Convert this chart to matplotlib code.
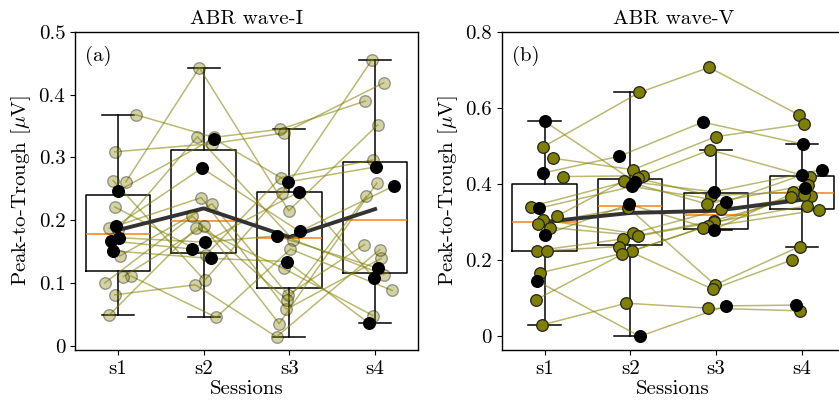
import matplotlib
matplotlib.use("Agg")
import matplotlib.pyplot as plt
import numpy as np
from matplotlib.ticker import FuncFormatter, MultipleLocator

plt.rcParams.update({
    "font.family": "cmr10",
    "mathtext.fontset": "cm",
    "axes.formatter.use_mathtext": True,
    "axes.unicode_minus": False,
    "font.size": 15,
})

sessions = ["s1", "s2", "s3", "s4"]

# Peak-to-trough amplitudes (µV); one row per listener, one column per session.
# The last five listeners are drawn in black.
wave1_amp = [
    [0.368, 0.332, 0.345, 0.390],
    [0.309, 0.322, 0.339, 0.419],
    [0.263, 0.104, 0.244, 0.456],
    [0.261, 0.443, 0.215, 0.352],
    [0.221, 0.145, 0.268, 0.296],
    [0.187, 0.236, 0.058, 0.139],
    [0.185, 0.333, 0.169, 0.113],
    [0.143, 0.226, 0.081, 0.161],
    [0.111, 0.045, 0.154, 0.088],
    [0.110, 0.190, 0.035, 0.259],
    [0.100, 0.206, 0.072, 0.238],
    [0.081, 0.097, 0.014, 0.153],
    [0.049, 0.188, 0.123, 0.048],
    [0.247, 0.330, 0.261, 0.285],
    [0.190, 0.283, 0.182, 0.255],
    [0.172, 0.165, 0.175, 0.123],
    [0.167, 0.154, 0.245, 0.107],
    [0.151, 0.139, 0.134, 0.036],
]

wave5_amp = [
    [0.497, 0.641, 0.707, 0.582],
    [0.468, 0.438, 0.525, 0.558],
    [0.420, 0.422, 0.490, 0.418],
    [0.341, 0.415, 0.370, 0.379],
    [0.317, 0.409, 0.348, 0.398],
    [0.306, 0.271, 0.334, 0.369],
    [0.296, 0.338, 0.135, 0.236],
    [0.286, 0.265, 0.304, 0.372],
    [0.225, 0.256, 0.300, 0.343],
    [0.225, 0.236, 0.124, 0.201],
    [0.167, 0.224, 0.290, 0.366],
    [0.096, 0.216, 0.286, 0.332],
    [0.030, 0.087, 0.074, 0.067],
    [0.565, 0.405, 0.380, 0.438],
    [0.429, 0.473, 0.563, 0.505],
    [0.337, 0.394, 0.354, 0.424],
    [0.267, 0.347, 0.280, 0.391],
    [0.146, 0.000, 0.080, 0.082],
]

highlighted = [False] * 13 + [True] * 5

# horizontal scatter offsets of each point around its session
wave1_jitter = [
    [0.210, 0.120, -0.105, -0.113],
    [-0.035, 0.100, -0.066, 0.100],
    [-0.054, 0.012, -0.082, -0.035],
    [0.093, -0.050, -0.008, 0.030],
    [-0.035, 0.030, -0.100, -0.028],
    [-0.100, -0.027, -0.035, 0.070],
    [0.000, -0.073, 0.042, 0.100],
    [0.023, 0.097, -0.016, -0.125],
    [0.152, 0.148, 0.012, 0.198],
    [0.063, 0.000, -0.120, 0.019],
    [-0.152, -0.130, -0.023, -0.105],
    [-0.035, -0.097, -0.150, 0.054],
    [-0.100, -0.085, -0.066, -0.028],
    [0.005, 0.117, -0.016, 0.012],
    [-0.027, -0.020, 0.120, 0.225],
    [0.012, 0.012, -0.150, 0.038],
    [-0.085, -0.136, 0.110, -0.008],
    [-0.058, 0.090, -0.028, -0.075],
]

wave5_jitter = [
    [-0.023, 0.105, -0.080, -0.035],
    [0.100, 0.030, 0.000, 0.022],
    [0.210, 0.143, -0.070, 0.098],
    [-0.160, 0.090, -0.063, -0.105],
    [0.150, -0.070, -0.110, 0.070],
    [-0.023, 0.030, 0.058, 0.110],
    [-0.073, -0.023, -0.012, -0.027],
    [0.066, 0.090, -0.023, 0.030],
    [-0.090, -0.086, -0.030, 0.058],
    [0.023, -0.133, -0.040, -0.112],
    [-0.050, 0.015, -0.100, -0.124],
    [-0.100, -0.093, -0.156, 0.200],
    [-0.030, -0.047, -0.093, -0.027],
    [0.000, 0.060, -0.030, 0.233],
    [-0.023, -0.133, -0.156, 0.014],
    [-0.062, 0.023, 0.117, 0.000],
    [0.008, -0.016, -0.028, 0.040],
    [-0.090, 0.108, 0.117, -0.073],
]


def draw_panel(ax, amp, jitter, title, tag, ylim, ystep, faded):
    amp = np.asarray(amp)
    jitter = np.asarray(jitter)
    mask = np.asarray(highlighted)
    pos = np.arange(1, len(sessions) + 1)

    line_kw = dict(color="black", linewidth=1.1)
    ax.boxplot([amp[:, j] for j in range(len(sessions))], positions=pos,
               widths=0.75, showfliers=False, zorder=1,
               boxprops=line_kw, whiskerprops=line_kw, capprops=line_kw,
               medianprops=dict(color="#ff7f0e", linewidth=1.1))

    xs = pos[None, :] + jitter
    for i in range(amp.shape[0]):
        ax.plot(xs[i], amp[i], color="olive", alpha=0.55, linewidth=1.1,
                zorder=2)

    ax.plot(pos, amp.mean(axis=0), color="#333333", linewidth=2.8, zorder=3)

    if faded:
        ax.scatter(xs[~mask], amp[~mask], s=70, color="olive", alpha=0.35,
                   edgecolors="black", linewidths=1.0, zorder=4)
    else:
        ax.scatter(xs[~mask], amp[~mask], s=70, color="olive",
                   edgecolors="#222222", linewidths=0.9, zorder=4)
    ax.scatter(xs[mask], amp[mask], s=70, color="black", zorder=5)

    ax.set_xlim(0.5, len(sessions) + 0.5)
    ax.set_xticks(pos)
    ax.set_xticklabels(sessions)
    ax.set_ylim(*ylim)
    ax.yaxis.set_major_locator(MultipleLocator(ystep))
    ax.yaxis.set_major_formatter(FuncFormatter(lambda v, _: f"{v:g}"))
    ax.set_title(title, fontsize=15, pad=6)
    ax.set_xlabel("Sessions", labelpad=2)
    ax.set_ylabel(r"Peak-to-Trough [$\mu$V]", labelpad=4)
    ax.text(0.03, 0.955, tag, transform=ax.transAxes, ha="left", va="top",
            fontsize=15)
    for sp in ax.spines.values():
        sp.set_linewidth(1.0)


fig = plt.figure(figsize=(8.39, 4.09), dpi=100)
ax1 = fig.add_axes([75 / 839, 59 / 409, 343 / 839, 318 / 409])
ax2 = fig.add_axes([501.7 / 839, 59 / 409, 343 / 839, 318 / 409])

draw_panel(ax1, wave1_amp, wave1_jitter, "ABR wave-I", "(a)",
           (-0.007, 0.5), 0.1, True)
draw_panel(ax2, wave5_amp, wave5_jitter, "ABR wave-V", "(b)",
           (-0.036, 0.8), 0.2, False)

fig.savefig("out.png", dpi=100)
